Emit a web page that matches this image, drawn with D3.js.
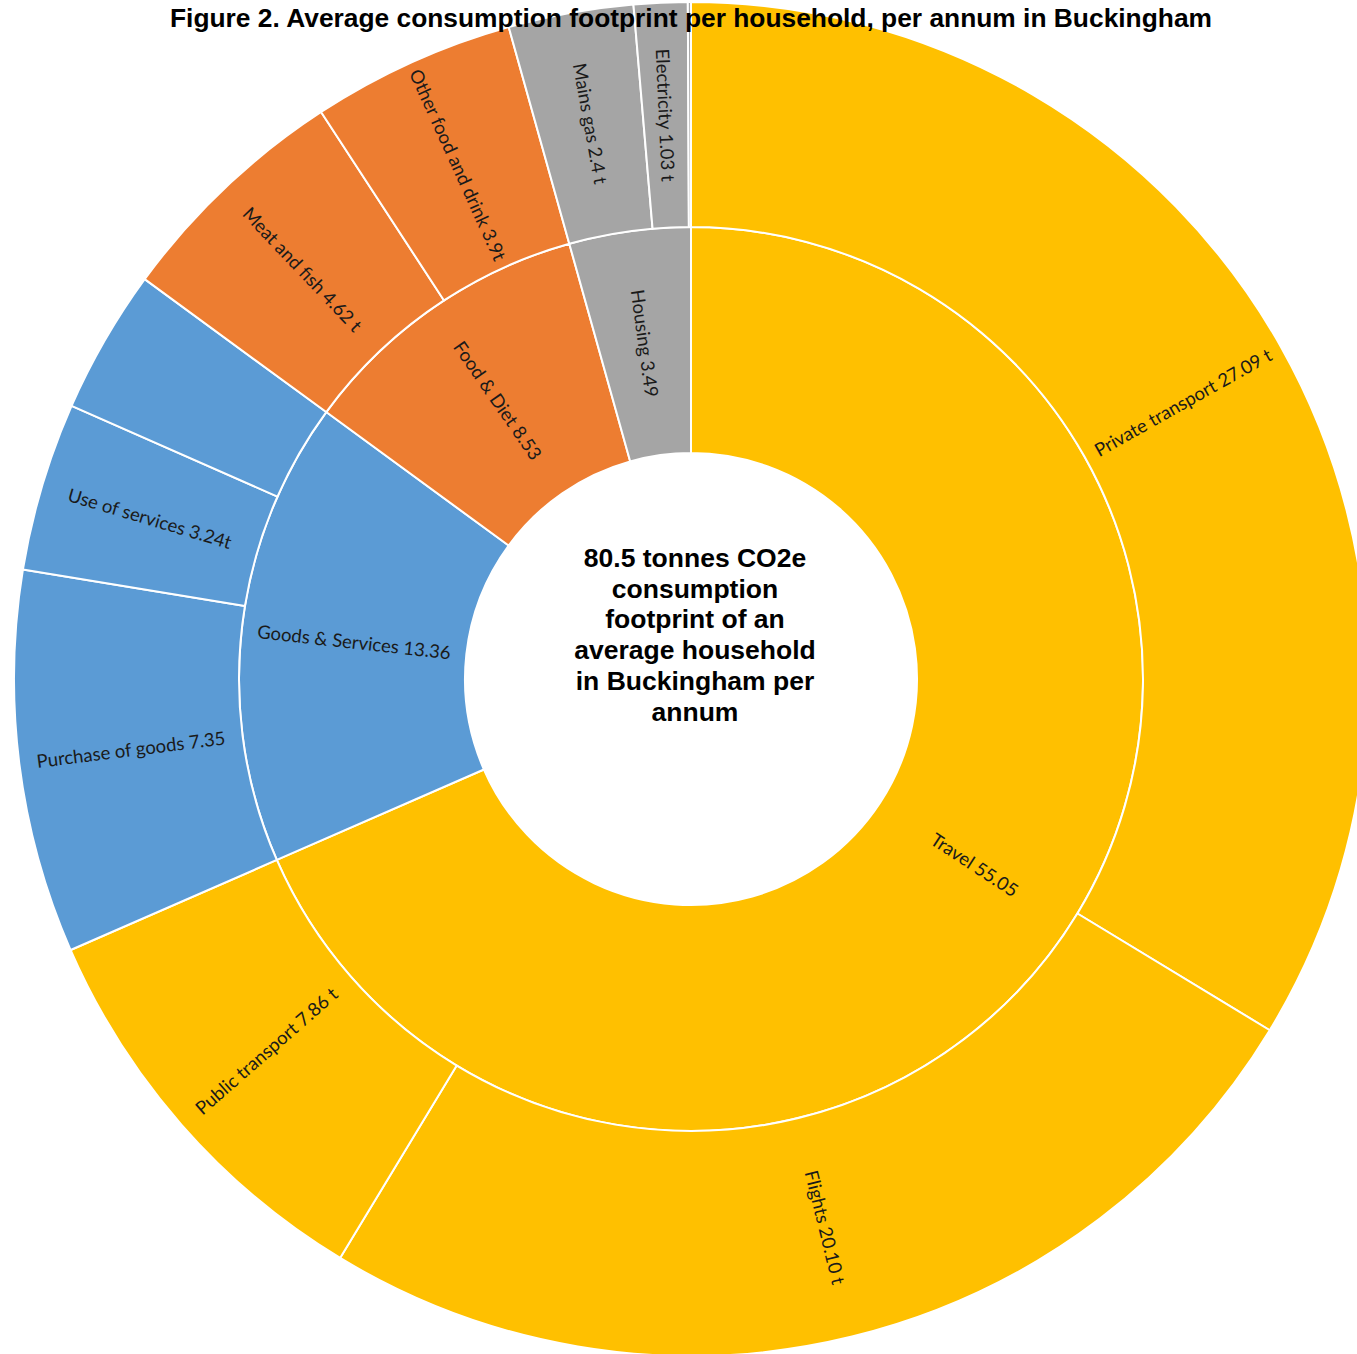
<!DOCTYPE html>
<html>
<head>
<meta charset="utf-8">
<script src="https://cdn.jsdelivr.net/npm/d3@7"></script>
<style>
  html, body { margin: 0; padding: 0; background: #fff; }
  svg { display: block; }
  .title { font-family: "Liberation Sans", Arial, sans-serif; font-weight: bold; fill: #000; }
  .centre { font-family: "Liberation Sans", Arial, sans-serif; font-weight: bold; fill: #000; }
  .seg-label { font-family: Lato, "Open Sans", sans-serif; fill: #1a1a1a; }
</style>
</head>
<body>
<svg id="chart"></svg>
<script>
// inner ring
const groups = ['Travel', 'Goods & Services', 'Food & Diet', 'Housing']
const groupValues = [55.05, 13.36, 8.53, 3.49]
const groupLabels = ['Travel 55.05', 'Goods & Services 13.36', 'Food & Diet 8.53', 'Housing 3.49']

// outer ring (same order, clockwise from 12 o'clock)
const items = ['Private transport', 'Flights', 'Public transport',
               'Purchase of goods', 'Use of services', 'Other goods',
               'Meat and fish', 'Other food and drink',
               'Mains gas', 'Electricity', 'Other housing']
const itemGroups = ['Travel', 'Travel', 'Travel',
                    'Goods & Services', 'Goods & Services', 'Goods & Services',
                    'Food & Diet', 'Food & Diet',
                    'Housing', 'Housing', 'Housing']
const itemValues = [27.09, 20.10, 7.86, 7.35, 3.24, 2.77, 4.62, 3.91, 2.4, 1.03, 0.06]
const itemLabels = ['Private transport 27.09 t', 'Flights 20.10 t', 'Public transport 7.86 t',
                    'Purchase of goods 7.35', 'Use of services 3.24t', '',
                    'Meat and fish 4.62 t', 'Other food and drink 3.9t',
                    'Mains gas 2.4 t', 'Electricity 1.03 t', '']

const titleText = 'Figure 2. Average consumption footprint per household, per annum in Buckingham'
const centreLines = ['80.5 tonnes CO2e', 'consumption', 'footprint of an',
                     'average household', 'in Buckingham per', 'annum']

const width = 1357
    , height = 1354
    , cx = 691
    , cy = 679
    , r0 = 226
    , r1 = 452
    , r2 = 677
    , colour = d3.scaleOrdinal()
        .domain(groups)
        .range(['#FFC000', '#5B9BD5', '#ED7D31', '#A5A5A5'])

const svg = d3.select('#chart')
    .attr('width', width)
    .attr('height', height)

const g = svg.append('g')
    .attr('transform', `translate(${[cx, cy]})`)

const pie = d3.pie().sort(null).value(d => d.value)

const inner = pie(groups.map((name, i) => ({ name, value: groupValues[i], label: groupLabels[i], group: name })))
const outer = pie(items.map((name, i) => ({ name, value: itemValues[i], label: itemLabels[i], group: itemGroups[i] })))

const arcInner = d3.arc().innerRadius(r0).outerRadius(r1)
const arcOuter = d3.arc().innerRadius(r1).outerRadius(r2)

const drawRing = (cls, data, arc, rMid) => {
    g.selectAll(`path.${cls}`)
        .data(data)
        .join('path')
        .attr('class', cls)
        .attr('d', arc)
        .attr('fill', d => colour(d.data.group))
        .attr('stroke', '#fff')
        .attr('stroke-width', 2)
        .attr('stroke-linejoin', 'round')

    // labels run along the radius, flipped on the left half so they stay readable
    g.selectAll(`text.${cls}-label`)
        .data(data.filter(d => d.data.label))
        .join('text')
        .attr('class', `seg-label ${cls}-label`)
        .attr('text-anchor', 'middle')
        .attr('dominant-baseline', 'central')
        .attr('font-size', 18.5)
        .attr('transform', d => {
            const a = (d.startAngle + d.endAngle) / 2
            const deg = a * 180 / Math.PI
            const rot = deg < 180 ? deg - 90 : deg - 270
            const x = Math.sin(a) * rMid
            const y = -Math.cos(a) * rMid
            return `translate(${[x, y]}) rotate(${rot})`
        })
        .text(d => d.data.label)
}

drawRing('inner', inner, arcInner, (r0 + r1) / 2)
drawRing('outer', outer, arcOuter, (r1 + r2) / 2)

// centre text
g.append('text')
    .attr('class', 'centre')
    .attr('text-anchor', 'middle')
    .attr('font-size', 26.5)
    .selectAll('tspan')
    .data(centreLines)
    .join('tspan')
    .attr('x', 4)
    .attr('y', (d, i) => -112 + i * 30.7)
    .text(d => d)

// title sits on top of the chart
svg.append('text')
    .attr('class', 'title')
    .attr('x', 170)
    .attr('y', 27)
    .attr('font-size', 25)
    .attr('textLength', 1042)
    .attr('lengthAdjust', 'spacingAndGlyphs')
    .text(titleText)
</script>
</body>
</html>
